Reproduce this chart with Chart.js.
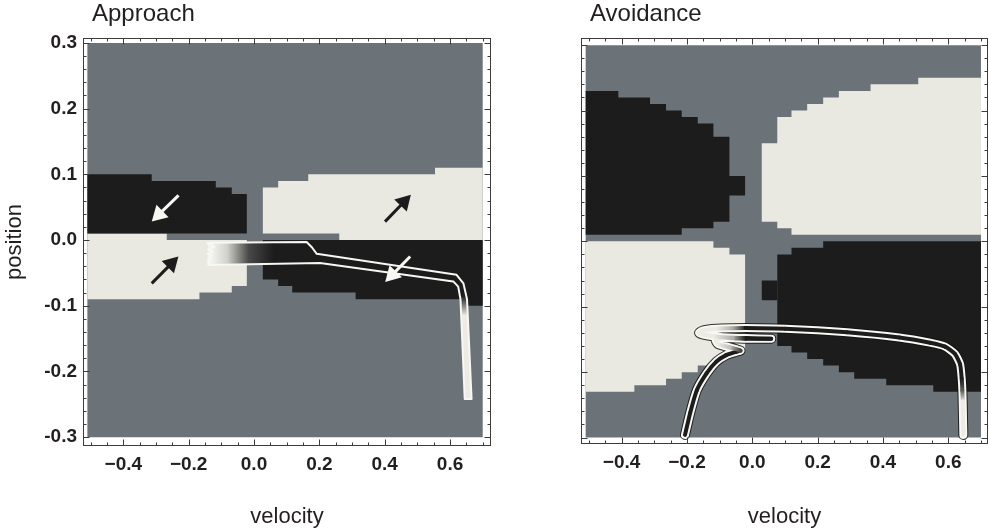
<!DOCTYPE html>
<html>
<head>
<meta charset="utf-8">
<title>Approach / Avoidance</title>
<script src="https://cdn.jsdelivr.net/npm/chart.js@4.4.1/dist/chart.umd.min.js"></script>
<style>
  html, body { margin: 0; padding: 0; background: #fff; }
  #wrap { position: relative; width: 989px; height: 531px; overflow: hidden; }
  #wrap canvas { position: absolute; top: 0; }
  #approach { left: 0; width: 494px; height: 531px; }
  #avoidance { left: 494px; width: 495px; height: 531px; }
</style>
</head>
<body>
<div id="wrap">
  <canvas id="approach" width="494" height="531"></canvas>
  <canvas id="avoidance" width="495" height="531"></canvas>
</div>
<script>
// ---- valeurs (vitesse en x, position en y) ----
const fieldX = [-0.51, 0.70];
const fieldY = [-0.30, 0.30];

const xTickValues = [-0.4, -0.2, 0.0, 0.2, 0.4, 0.6];
const yTickValues = [-0.3, -0.2, -0.1, 0.0, 0.1, 0.2, 0.3];
const xMinorStep = 0.05;
const yMinorStep = 0.02;

// Approach : regions en escalier
const approachDarkUpper = [[-0.51, 0.01], [-0.51, 0.10], [-0.313, 0.10], [-0.313, 0.09], [-0.117, 0.09], [-0.117, 0.08],
  [-0.068, 0.08], [-0.068, 0.07], [-0.022, 0.07], [-0.022, 0.01], [-0.51, 0.01]];
const approachLightUpper = [[0.027, 0.01], [0.027, 0.08], [0.074, 0.08], [0.074, 0.09], [0.166, 0.09], [0.166, 0.10],
  [0.554, 0.10], [0.554, 0.11], [0.70, 0.11], [0.70, 0.0], [0.261, 0.0], [0.261, 0.01], [0.027, 0.01]];
const approachLightLower = [[-0.51, 0.01], [-0.267, 0.01], [-0.267, 0.0], [-0.022, 0.0], [-0.022, -0.07], [-0.068, -0.07],
  [-0.068, -0.08], [-0.167, -0.08], [-0.167, -0.09], [-0.51, -0.09], [-0.51, 0.01]];
const approachDarkLower = [[0.027, 0.0], [0.70, 0.0], [0.70, -0.10], [0.652, -0.10], [0.652, -0.09], [0.311, -0.09],
  [0.311, -0.08], [0.117, -0.08], [0.117, -0.07], [0.074, -0.07], [0.074, -0.06], [0.027, -0.06], [0.027, 0.0]];

// Approach : trajectoire (contour, bande floue, tube)
const approachTrail = [[-0.145, -0.004], [0.161, -0.003], [0.177, -0.011], [0.192, -0.021], [0.620, -0.053], [0.641, -0.066],
  [0.652, -0.09], [0.666, -0.242], [0.645, -0.242], [0.632, -0.09], [0.625, -0.071], [0.610, -0.063], [0.202, -0.035],
  [-0.140, -0.038], [-0.140, -0.028], [-0.129, -0.024], [-0.142, -0.021], [-0.126, -0.018], [-0.140, -0.014],
  [-0.122, -0.010], [-0.145, -0.004]];
const approachBand = [[-0.145, -0.004], [0.161, -0.003], [0.177, -0.011], [0.192, -0.021], [0.202, -0.035],
  [-0.140, -0.038], [-0.140, -0.010], [-0.145, -0.004]];
const approachTube = [[0.150, -0.003], [0.161, -0.003], [0.177, -0.011], [0.192, -0.021], [0.620, -0.053], [0.641, -0.066],
  [0.652, -0.09], [0.666, -0.242], [0.645, -0.242], [0.632, -0.09], [0.625, -0.071], [0.610, -0.063], [0.202, -0.035],
  [0.150, -0.036], [0.150, -0.003]];

// Approach : fleches (queue -> centre de la pointe)
const approachArrowTails = [[-0.231, 0.068], [0.401, 0.028], [-0.313, -0.066], [0.478, -0.025]];
const approachArrowHeads = [[-0.291, 0.039], [0.459, 0.058], [-0.253, -0.036], [0.423, -0.053]];

// Avoidance : regions en escalier
const avoidDarkUpper = [[-0.51, 0.01], [-0.51, 0.23], [-0.41, 0.23], [-0.41, 0.22], [-0.313, 0.22], [-0.313, 0.21],
  [-0.264, 0.21], [-0.264, 0.20], [-0.216, 0.20], [-0.216, 0.19], [-0.167, 0.19], [-0.167, 0.18], [-0.119, 0.18],
  [-0.119, 0.16], [-0.07, 0.16], [-0.07, 0.10], [-0.022, 0.10], [-0.022, 0.07], [-0.07, 0.07], [-0.07, 0.03],
  [-0.119, 0.03], [-0.119, 0.02], [-0.216, 0.02], [-0.216, 0.01], [-0.51, 0.01]];
const avoidLightUpper = [[0.029, 0.03], [0.029, 0.15], [0.0765, 0.15], [0.0765, 0.19], [0.12, 0.19], [0.12, 0.20],
  [0.168, 0.20], [0.168, 0.21], [0.217, 0.21], [0.217, 0.22], [0.265, 0.22], [0.265, 0.23], [0.362, 0.23], [0.362, 0.24],
  [0.508, 0.24], [0.508, 0.25], [0.70, 0.25], [0.70, 0.01], [0.12, 0.01], [0.12, 0.02], [0.0765, 0.02], [0.0765, 0.03],
  [0.029, 0.03]];
const avoidLightLower = [[-0.51, 0.0], [-0.119, 0.0], [-0.119, -0.01], [-0.07, -0.01], [-0.07, -0.02], [-0.022, -0.02],
  [-0.022, -0.17], [-0.07, -0.17], [-0.07, -0.18], [-0.119, -0.18], [-0.119, -0.19], [-0.167, -0.19], [-0.167, -0.20],
  [-0.216, -0.20], [-0.216, -0.21], [-0.264, -0.21], [-0.264, -0.22], [-0.361, -0.22], [-0.361, -0.23], [-0.51, -0.23],
  [-0.51, 0.0]];
const avoidDarkLower = [[0.0765, -0.02], [0.12, -0.02], [0.12, -0.01], [0.217, -0.01], [0.217, 0.0], [0.70, 0.0],
  [0.70, -0.23], [0.554, -0.23], [0.554, -0.22], [0.41, -0.22], [0.41, -0.21], [0.312, -0.21], [0.312, -0.20],
  [0.265, -0.20], [0.265, -0.19], [0.217, -0.19], [0.217, -0.18], [0.168, -0.18], [0.168, -0.17], [0.12, -0.17],
  [0.12, -0.16], [0.0765, -0.16], [0.0765, -0.02]];
const avoidDarkSpot = [[0.029, -0.06], [0.0765, -0.06], [0.0765, -0.09], [0.029, -0.09], [0.029, -0.06]];

// Avoidance : trajectoire (0 = interieur noir, 1 = interieur clair)
const avoidPathX = [-0.206, -0.190, -0.170, -0.140, -0.110, -0.080, -0.050, -0.036, -0.070, -0.105, -0.112, -0.085,
  -0.050, -0.020, 0.058, -0.020, -0.060, -0.120, -0.150, -0.163, -0.150, -0.110, -0.060, -0.020, 0.100, 0.290,
  0.450, 0.544, 0.590, 0.620, 0.636, 0.641, 0.643, 0.644, 0.646];
const avoidPathY = [-0.296, -0.262, -0.228, -0.202, -0.184, -0.174, -0.169, -0.167, -0.162, -0.157, -0.151, -0.148,
  -0.1485, -0.149, -0.149, -0.148, -0.1475, -0.145, -0.1425, -0.140, -0.136, -0.1335, -0.1328, -0.1325, -0.1335, -0.139,
  -0.147, -0.155, -0.161, -0.172, -0.188, -0.210, -0.228, -0.245, -0.296];
const avoidPathShade = [0, 0, 0, 0, 0, 0, 0, 0.2, 0.8, 1, 1, 1,
  0.6, 0, 0, 0, 0.7, 1, 1, 1, 1, 1, 0.7, 0, 0, 0,
  0, 0, 0, 0, 0, 0, 0.3, 1, 1];

// ---- styles ----
const fontFamily = '"Liberation Sans", Arial, Helvetica, sans-serif';
const inkColor = '#231f20';
const frameColor = '#3c3c3c';
const grayColor = '#6b7379';
const darkColor = '#1c1c1c';
const lightColor = '#e9e9e1';
const trailWhite = '#f7f7f3';
const shadeDark = [28, 28, 28];
const shadeLight = [236, 235, 228];

Chart.defaults.font.family = fontFamily;

function toPoints(pairs) {
  return pairs.map(([x, y]) => ({ x, y }));
}

function fieldRect() {
  return [[fieldX[0], fieldY[0]], [fieldX[0], fieldY[1]], [fieldX[1], fieldY[1]], [fieldX[1], fieldY[0]], [fieldX[0], fieldY[0]]];
}

function region(pairs, color, order) {
  return {
    data: toPoints(pairs), fill: 'shape', backgroundColor: color,
    borderColor: 'transparent', borderWidth: 0, pointRadius: 0, tension: 0, order
  };
}

function shadeColor(s) {
  const c = shadeDark.map((d, i) => Math.round(d + (shadeLight[i] - d) * s));
  return `rgb(${c[0]}, ${c[1]}, ${c[2]})`;
}

function tickText(v) {
  return Math.abs(v) < 1e-9 ? '0.0' : v.toFixed(1);
}

function arrow(tail, head, color) {
  return {
    data: toPoints([tail, head]), borderColor: color, borderWidth: 3, fill: false, order: 1,
    pointRadius: [0, 10], pointStyle: 'triangle', pointBackgroundColor: color,
    pointBorderColor: color, pointBorderWidth: 0,
    pointRotation: function (c) {
      const { x, y } = c.chart.scales;
      const dx = x.getPixelForValue(head[0]) - x.getPixelForValue(tail[0]);
      const dy = y.getPixelForValue(head[1]) - y.getPixelForValue(tail[1]);
      return Math.atan2(dx, -dy) * 180 / Math.PI;
    }
  };
}

// cadre, graduations tournees vers l'interieur et titre du panneau
const framePlugin = {
  id: 'frame',
  afterDraw(chart, args, opts) {
    const { ctx, chartArea: a, scales } = chart;
    ctx.save();
    ctx.strokeStyle = frameColor;
    ctx.lineWidth = 1;
    ctx.strokeRect(a.left + 0.5, a.top + 0.5, a.width - 1, a.height - 1);

    const drawX = (v, len) => {
      const px = Math.round(scales.x.getPixelForValue(v)) + 0.5;
      ctx.beginPath();
      ctx.moveTo(px, a.bottom); ctx.lineTo(px, a.bottom - len);
      ctx.moveTo(px, a.top); ctx.lineTo(px, a.top + len);
      ctx.stroke();
    };
    const drawY = (v, len) => {
      const py = Math.round(scales.y.getPixelForValue(v)) + 0.5;
      ctx.beginPath();
      ctx.moveTo(a.left, py); ctx.lineTo(a.left + len, py);
      ctx.moveTo(a.right, py); ctx.lineTo(a.right - len, py);
      ctx.stroke();
    };
    for (let k = Math.ceil(scales.x.min / xMinorStep - 1e-9); k * xMinorStep <= scales.x.max + 1e-9; k++) drawX(k * xMinorStep, 3.5);
    for (let k = Math.ceil(scales.y.min / yMinorStep - 1e-9); k * yMinorStep <= scales.y.max + 1e-9; k++) drawY(k * yMinorStep, 3.5);
    scales.x.ticks.forEach(t => drawX(t.value, 6.5));
    scales.y.ticks.forEach(t => drawY(t.value, 6.5));

    ctx.fillStyle = inkColor;
    ctx.font = '24px ' + fontFamily;
    ctx.textBaseline = 'alphabetic';
    ctx.textAlign = 'left';
    ctx.fillText(opts.title, a.left + 9, 21);
    ctx.restore();
  }
};

function noPadding(s) {
  s.paddingLeft = 0; s.paddingRight = 0; s.paddingTop = 0; s.paddingBottom = 0;
}

function panelOptions(p) {
  return {
    responsive: false,
    animation: false,
    events: [],
    layout: { padding: p.padding, autoPadding: false },
    plugins: {
      legend: { display: false },
      tooltip: { enabled: false },
      frame: { title: p.title }
    },
    scales: {
      x: {
        type: 'linear', min: p.xRange[0], max: p.xRange[1],
        afterBuildTicks: s => { s.ticks = xTickValues.map(value => ({ value })); },
        afterFit: s => { s.height = p.xAxisHeight; noPadding(s); },
        grid: { display: false, drawTicks: false },
        border: { display: false },
        ticks: {
          padding: 7, color: inkColor, font: { size: 19, weight: 'bold' }, maxRotation: 0, autoSkip: false,
          callback: v => tickText(v).replace('-', '\u2212')
        },
        title: { display: true, text: 'velocity', color: inkColor, font: { size: 22 }, padding: { top: 0, bottom: 1 } }
      },
      y: {
        type: 'linear', min: p.yRange[0], max: p.yRange[1],
        afterBuildTicks: s => { s.ticks = yTickValues.map(value => ({ value })); },
        afterFit: s => { s.width = p.yAxisWidth; noPadding(s); },
        grid: { display: false, drawTicks: false },
        border: { display: false },
        ticks: { display: p.yLabels, padding: 6, color: inkColor, font: { size: 19, weight: 'bold' }, callback: v => tickText(v) },
        title: { display: p.yLabels, text: 'position', color: inkColor, font: { size: 22 }, padding: { top: 2, bottom: 0 } }
      }
    }
  };
}

// bande floue : blanc a gauche, noir a droite
function bandFill(c) {
  const { chart } = c;
  if (!chart.chartArea) return lightColor;
  const x = chart.scales.x;
  const g = chart.ctx.createLinearGradient(x.getPixelForValue(-0.13), 0, x.getPixelForValue(0.06), 0);
  g.addColorStop(0, '#f3f3ef');
  g.addColorStop(0.25, '#d2d2cc');
  g.addColorStop(0.6, '#484848');
  g.addColorStop(1, darkColor);
  return g;
}

// tube : noir puis clair en descendant
function tubeFill(c) {
  const { chart } = c;
  if (!chart.chartArea) return darkColor;
  const y = chart.scales.y;
  const g = chart.ctx.createLinearGradient(0, y.getPixelForValue(-0.085), 0, y.getPixelForValue(-0.115));
  g.addColorStop(0, darkColor);
  g.addColorStop(1, shadeColor(1));
  return g;
}

// ---- Approach ----
const approachArrowColors = [trailWhite, darkColor, darkColor, trailWhite];
new Chart(document.getElementById('approach'), {
  type: 'line',
  data: {
    datasets: [
      region(fieldRect(), grayColor, 10),
      region(approachDarkUpper, darkColor, 9),
      region(approachLightUpper, lightColor, 9),
      region(approachLightLower, lightColor, 9),
      region(approachDarkLower, darkColor, 9),
      region(approachBand, bandFill, 6),
      region(approachTube, tubeFill, 5),
      {
        data: toPoints(approachTrail), borderColor: trailWhite, borderWidth: 2, fill: false,
        pointRadius: 0, tension: 0, borderJoinStyle: 'round', order: 4
      },
      ...approachArrowTails.map((t, i) => arrow(t, approachArrowHeads[i], approachArrowColors[i]))
    ]
  },
  options: panelOptions({
    title: 'Approach', yLabels: true,
    xRange: [-0.5234, 0.7254], yRange: [-0.3135, 0.3075],
    padding: { left: 0, top: 38, right: 3, bottom: 0 },
    yAxisWidth: 83, xAxisHeight: 85
  }),
  plugins: [framePlugin]
});

// ---- Avoidance ----
const avoidPath = avoidPathX.map((x, i) => ({ x, y: avoidPathY[i] }));
const pathLine = { fill: false, pointRadius: 0, tension: 0.2, borderCapStyle: 'round', borderJoinStyle: 'round' };

new Chart(document.getElementById('avoidance'), {
  type: 'line',
  data: {
    datasets: [
      region(fieldRect(), grayColor, 10),
      region(avoidDarkUpper, darkColor, 9),
      region(avoidLightUpper, lightColor, 9),
      region(avoidLightLower, lightColor, 9),
      region(avoidDarkLower, darkColor, 9),
      region(avoidDarkSpot, darkColor, 9),
      Object.assign({ data: avoidPath, borderColor: 'rgba(18, 18, 18, 0.85)', borderWidth: 10, order: 6 }, pathLine),
      Object.assign({ data: avoidPath, borderColor: trailWhite, borderWidth: 8, order: 5 }, pathLine),
      Object.assign({
        data: avoidPath, borderColor: darkColor, borderWidth: 4, order: 4,
        segment: {
          borderColor: function (c) {
            const g = c.chart.ctx.createLinearGradient(c.p0.x, c.p0.y, c.p1.x, c.p1.y);
            g.addColorStop(0, shadeColor(avoidPathShade[c.p0DataIndex]));
            g.addColorStop(1, shadeColor(avoidPathShade[c.p1DataIndex]));
            return g;
          }
        }
      }, pathLine)
    ]
  },
  options: panelOptions({
    title: 'Avoidance', yLabels: false,
    xRange: [-0.5243, 0.7215], yRange: [-0.3099, 0.3109],
    padding: { left: 0, top: 38, right: 1, bottom: 0 },
    yAxisWidth: 87, xAxisHeight: 87
  }),
  plugins: [framePlugin]
});
</script>
</body>
</html>
